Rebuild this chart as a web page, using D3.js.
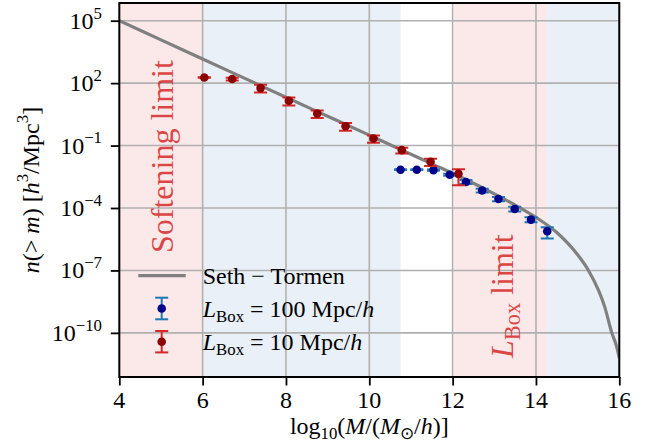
<!DOCTYPE html>
<html><head><meta charset="utf-8">
<script src="https://cdn.jsdelivr.net/npm/d3@7"></script>
<style>
body{margin:0;background:#fff}
text{font-family:"Liberation Serif","Times New Roman",serif;fill:#000}
</style>
</head><body>
<svg id="c" width="660" height="447"></svg>
<script>
// ---------- data ----------
const xTicks = [4, 6, 8, 10, 12, 14, 16];
const yTickExp = [5, 2, -1, -4, -7, -10];
const xDomain = [4, 16];
const yDomainExp = [-12.12, 5.85];

// shaded regions
const spanStart = [4, 6, 12.04, 14.26];
const spanEnd = [6, 10.75, 14.26, 16];
const spanKind = ["red", "blue", "red", "blue"];

// Seth-Tormen curve (log10 M, log10 n)
const stX =    [4, 5, 6, 7, 8, 9, 10, 10.5, 11, 11.5, 12, 12.5, 13, 13.5, 14, 14.5, 15, 15.26, 15.5, 15.65, 15.82, 15.92, 16];
const stLogN = [5.0, 4.08, 3.16, 2.24, 1.32, 0.41, -0.5, -0.96, -1.42, -1.88, -2.33, -2.81, -3.32, -3.86, -4.45, -5.18, -6.25, -7.0, -7.95, -8.75, -10.0, -10.55, -11.2];

// L_Box = 100 Mpc/h
const blueX =     [10.75, 11.14, 11.54, 11.93, 12.32, 12.71, 13.10, 13.49, 13.88, 14.27];
const blueLogN =  [-2.16, -2.16, -2.18, -2.40, -2.75, -3.16, -3.57, -4.05, -4.56, -5.12];
const blueErrUp = [0.02, 0.02, 0.03, 0.05, 0.09, 0.09, 0.10, 0.11, 0.12, 0.19];
const blueErrDn = [0.02, 0.02, 0.03, 0.05, 0.10, 0.10, 0.11, 0.12, 0.13, 0.34];

// L_Box = 10 Mpc/h
const redX =     [6.04, 6.71, 7.39, 8.07, 8.75, 9.43, 10.10, 10.78, 11.47, 12.14];
const redLogN =  [2.27, 2.20, 1.76, 1.15, 0.54, -0.07, -0.66, -1.22, -1.78, -2.36];
const redErrUp = [0.01, 0.06, 0.16, 0.16, 0.15, 0.16, 0.14, 0.11, 0.15, 0.22];
const redErrDn = [0.01, 0.07, 0.21, 0.22, 0.22, 0.22, 0.21, 0.16, 0.20, 0.55];

// ---------- drawing ----------
const svg = d3.select("#c");
const X0 = 119.3, X1 = 619.3, Y0 = 3, Y1 = 377;
const x = d3.scaleLinear().domain(xDomain).range([X0, X1]);
const y = d3.scaleLog().domain(yDomainExp.map(e => Math.pow(10, e))).range([Y1, Y0]);
const p10 = e => Math.pow(10, e);

const spanColor = {red: "#fbe9e9", blue: "#e9f0f7"};
const errColor = {red: "#d62728", blue: "#1f77b4"};
const mkColor = {red: "#8b0000", blue: "#00008b"};

svg.append("rect").attr("width", 660).attr("height", 447).attr("fill", "#fff");
svg.append("clipPath").attr("id", "clip").append("rect")
  .attr("x", X0).attr("y", Y0).attr("width", X1 - X0).attr("height", Y1 - Y0);
const plot = svg.append("g").attr("clip-path", "url(#clip)");

plot.selectAll("rect.span").data(spanStart.map((s, i) => ({s, e: spanEnd[i], k: spanKind[i]})))
  .join("rect").attr("class", "span")
  .attr("x", d => x(d.s)).attr("width", d => x(d.e) - x(d.s))
  .attr("y", Y0).attr("height", Y1 - Y0).attr("fill", d => spanColor[d.k]);

// grid
plot.selectAll("line.gx").data(xTicks).join("line").attr("class", "gx")
  .attr("x1", d => x(d)).attr("x2", d => x(d)).attr("y1", Y0).attr("y2", Y1)
  .attr("stroke", "#b0b0b0").attr("stroke-width", 1.6);
plot.selectAll("line.gy").data(yTickExp).join("line").attr("class", "gy")
  .attr("y1", d => y(p10(d))).attr("y2", d => y(p10(d))).attr("x1", X0).attr("x2", X1)
  .attr("stroke", "#b0b0b0").attr("stroke-width", 1.6);

// curve
const line = d3.line().x(d => x(d[0])).y(d => y(p10(d[1]))).curve(d3.curveMonotoneX);
plot.append("path").datum(stX.map((v, i) => [v, stLogN[i]]))
  .attr("d", line).attr("fill", "none").attr("stroke", "#808080").attr("stroke-width", 3.2);

// error bars
function errSeries(xs, ls, up, dn, kind) {
  const data = xs.map((v, i) => ({x: v, l: ls[i], u: up[i], d: dn[i]}));
  const g = plot.append("g");
  const eb = g.selectAll("g").data(data).join("g");
  eb.append("line").attr("x1", d => x(d.x)).attr("x2", d => x(d.x))
    .attr("y1", d => y(p10(d.l + d.u))).attr("y2", d => y(p10(d.l - d.d)))
    .attr("stroke", errColor[kind]).attr("stroke-width", 2);
  [["u", 1], ["d", -1]].forEach(([k, s]) => {
    eb.append("line").attr("x1", d => x(d.x) - 6.5).attr("x2", d => x(d.x) + 6.5)
      .attr("y1", d => y(p10(d.l + s * d[k]))).attr("y2", d => y(p10(d.l + s * d[k])))
      .attr("stroke", errColor[kind]).attr("stroke-width", 2);
  });
  eb.append("circle").attr("cx", d => x(d.x)).attr("cy", d => y(p10(d.l))).attr("r", 4.3)
    .attr("fill", mkColor[kind]);
}
errSeries(blueX, blueLogN, blueErrUp, blueErrDn, "blue");
errSeries(redX, redLogN, redErrUp, redErrDn, "red");

// rich text helper
function rich(sel, parts, fs) {
  let cur = 0;
  parts.forEach(p => {
    const off = p.v === "sup" ? -fs * 0.42 : p.v === "sub" ? fs * 0.22 : 0;
    const t = sel.append("tspan").text(p.t).attr("dy", off - cur);
    cur = off;
    if (p.v) t.attr("font-size", fs * 0.7);
    if (p.i) t.attr("font-style", "italic");
  });
}

// annotations
const annoFs = 32;
const soft = svg.append("text").attr("transform", `translate(172.5,253) rotate(-90)`)
  .attr("font-size", annoFs).style("fill", "#d62728").attr("fill-opacity", 0.85);
rich(soft, [{t: "Softening limit"}], annoFs);
const lbox = svg.append("text").attr("transform", `translate(512.7,358) rotate(-90)`)
  .attr("font-size", annoFs).style("fill", "#d62728").attr("fill-opacity", 0.85);
rich(lbox, [{t: "L", i: 1}, {t: "Box", v: "sub"}, {t: " limit"}], annoFs);

// legend
const lg = svg.append("g");
lg.append("line").attr("x1", 138.3).attr("x2", 185.7).attr("y1", 275.7).attr("y2", 275.7)
  .attr("stroke", "#808080").attr("stroke-width", 3.2);
[["blue", 308.5, 10.8], ["red", 341.7, 10.7]].forEach(([k, cy, h]) => {
  lg.append("line").attr("x1", 161.7).attr("x2", 161.7).attr("y1", cy - h).attr("y2", cy + h)
    .attr("stroke", errColor[k]).attr("stroke-width", 2);
  [-h, h].forEach(o => lg.append("line").attr("x1", 155.2).attr("x2", 168.2)
    .attr("y1", cy + o).attr("y2", cy + o).attr("stroke", errColor[k]).attr("stroke-width", 2));
  lg.append("circle").attr("cx", 161.7).attr("cy", cy).attr("r", 4.3).attr("fill", mkColor[k]);
});
const legFs = 24;
rich(lg.append("text").attr("x", 202.7).attr("y", 283.5).attr("font-size", legFs),
  [{t: "Seth \u2212 Tormen"}], legFs);
rich(lg.append("text").attr("x", 202.7).attr("y", 316.5).attr("font-size", legFs),
  [{t: "L", i: 1}, {t: "Box", v: "sub"}, {t: " = 100 Mpc/"}, {t: "h", i: 1}], legFs);
rich(lg.append("text").attr("x", 202.7).attr("y", 349.8).attr("font-size", legFs),
  [{t: "L", i: 1}, {t: "Box", v: "sub"}, {t: " = 10 Mpc/"}, {t: "h", i: 1}], legFs);

// axes
const tickFs = 24;
const xAxis = d3.axisBottom(x).tickValues(xTicks).tickSize(8.5).tickFormat("");
const gx = svg.append("g").attr("transform", `translate(0,${Y1})`).call(xAxis);
const yAxis = d3.axisLeft(y).tickValues(yTickExp.map(p10)).tickSize(8.5).tickFormat("");
const gy = svg.append("g").attr("transform", `translate(${X0},0)`).call(yAxis);
[gx, gy].forEach(g => {
  g.select(".domain").remove();
  g.selectAll(".tick line").attr("stroke", "#000").attr("stroke-width", 1.8);
});
svg.selectAll("text.xt").data(xTicks).join("text").attr("class", "xt")
  .attr("x", d => x(d)).attr("y", 407.5).attr("text-anchor", "middle")
  .attr("font-size", tickFs).text(d => d);
svg.selectAll("text.yt").data(yTickExp).join("text").attr("class", "yt")
  .attr("x", 102).attr("y", d => y(p10(d)) + 8).attr("text-anchor", "end")
  .attr("font-size", tickFs)
  .each(function (d) {
    rich(d3.select(this), [{t: "10"}, {t: String(d).replace("-", "\u2212"), v: "sup"}], tickFs);
  });

// frame
svg.append("rect").attr("x", X0).attr("y", Y0).attr("width", X1 - X0).attr("height", Y1 - Y0)
  .attr("fill", "none").attr("stroke", "#000").attr("stroke-width", 2);

// axis labels
const labFs = 24;
const xl = svg.append("text").attr("x", (X0 + X1) / 2).attr("y", 433.5).attr("text-anchor", "middle")
  .attr("font-size", labFs);
rich(xl, [{t: "log"}, {t: "10", v: "sub"}, {t: "("}, {t: "M", i: 1}, {t: "/("}, {t: "M", i: 1},
  {t: "\u2299", v: "sub"}, {t: "/"}, {t: "h", i: 1}, {t: ")]"}], labFs);
const yl = svg.append("text").attr("transform", `translate(38.5,${(Y0 + Y1) / 2}) rotate(-90)`)
  .attr("text-anchor", "middle").attr("font-size", labFs);
rich(yl, [{t: "n", i: 1}, {t: "(> "}, {t: "m", i: 1}, {t: ") ["}, {t: "h", i: 1}, {t: "3", v: "sup"},
  {t: "/Mpc"}, {t: "3", v: "sup"}, {t: "]"}], labFs);
</script>
</body></html>
